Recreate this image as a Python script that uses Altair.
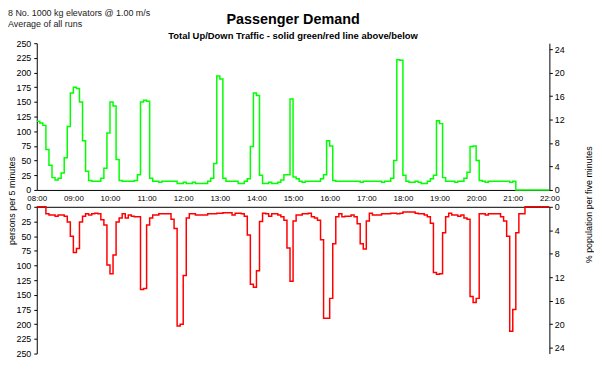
import altair as alt
import pandas as pd

# ---- data (persons per 5 minutes, 08:00 .. 22:00) ----
up_traffic = [
    117, 114, 110, 69, 42, 21, 17, 20, 29, 55, 108, 165,
    175, 173, 150, 84, 32, 16, 15, 15, 15, 20, 37, 97,
    150, 143, 52, 16, 15, 15, 15, 15, 16, 26, 150, 153,
    151, 20, 15, 15, 13, 15, 15, 15, 15, 15, 11, 11,
    13, 11, 11, 13, 11, 11, 11, 11, 15, 20, 45, 194,
    189, 20, 15, 15, 15, 15, 11, 11, 15, 19, 74, 165,
    161, 25, 11, 11, 13, 11, 11, 13, 17, 26, 26, 155,
    22, 19, 15, 13, 15, 15, 15, 15, 15, 19, 26, 84,
    75, 16, 15, 15, 15, 15, 15, 15, 15, 15, 13, 15,
    15, 15, 15, 15, 15, 13, 15, 15, 20, 50, 222, 221,
    25, 15, 13, 13, 15, 13, 11, 11, 15, 19, 25, 118,
    113, 21, 15, 15, 15, 13, 15, 15, 20, 30, 74, 75,
    50, 16, 15, 13, 15, 15, 15, 15, 15, 15, 15, 13,
    15, 0, 0, 0, 0, 0, 0, 0, 0, 0, 0, 0,
]
down_traffic = [
    0, 0, 0, 12, 14, 14, 16, 14, 14, 16, 26, 50,
    78, 71, 26, 16, 12, 14, 12, 11, 12, 22, 31, 99,
    114, 82, 26, 19, 12, 19, 14, 16, 17, 17, 141, 139,
    31, 19, 14, 14, 12, 12, 12, 12, 21, 37, 203, 200,
    117, 19, 12, 12, 14, 14, 14, 14, 12, 12, 12, 11,
    11, 10, 10, 10, 14, 11, 11, 12, 16, 48, 132, 137,
    109, 25, 11, 12, 16, 12, 12, 14, 17, 23, 70, 127,
    24, 14, 14, 12, 12, 11, 17, 19, 23, 56, 190, 190,
    156, 63, 17, 12, 17, 16, 16, 14, 17, 29, 63, 72,
    24, 11, 14, 14, 14, 12, 12, 12, 11, 11, 12, 11,
    9, 9, 9, 9, 11, 12, 12, 14, 17, 28, 112, 115,
    114, 44, 17, 11, 14, 14, 16, 14, 19, 21, 153, 163,
    156, 12, 12, 14, 12, 12, 12, 12, 17, 24, 50, 212,
    175, 44, 12, 12, 0, 0, 0, 0, 0, 0, 0, 0,
]
start_hour = 8
end_hour = 22
population = 1000
hour_ticks = list(range(8, 23))
person_ticks = list(range(0, 251, 25))
pct_ticks = list(range(0, 25, 4))

title_text = "Passenger Demand"
subtitle_text = "Total Up/Down Traffic - solid green/red line above/below"
note_lines = ["8 No. 1000 kg elevators @ 1.00 m/s", "Average of all runs"]
left_title = "persons per 5 minutes"
right_title = "% population per five minutes"

n = len(up_traffic)
times = [start_hour + i / 12 for i in range(n + 1)]
df = pd.DataFrame({
    "t": times,
    "up": up_traffic + [up_traffic[-1]],
    "down": down_traffic + [down_traffic[-1]],
})
df["up_pct"] = df["up"] * 100 / population
df["down_pct"] = df["down"] * 100 / population

W, H = 517, 148
FONT = "Liberation Sans"

xscale = alt.Scale(domain=[start_hour, end_hour], nice=False, zero=False)
x_top = alt.X("t:Q", scale=xscale, axis=alt.Axis(
    values=hour_ticks,
    labelExpr="(datum.value < 10 ? '0' : '') + datum.value + ':00'",
    title=None, ticks=False, labelPadding=4.5, labelFontSize=8,
    labelFlush=False, labelOverlap=False))
x_bot = alt.X("t:Q", scale=xscale, axis=alt.Axis(
    orient="top", labels=False, ticks=False, title=None))


def txt(text, x, y, **kw):
    return alt.Chart(pd.DataFrame({"label": [text]})).mark_text(font=FONT, **kw).encode(
        x=alt.value(x), y=alt.value(y), text="label:N")


green = alt.Chart(df).mark_line(color="#00ff00", strokeWidth=1.5, interpolate="step-after").encode(
    x=x_top,
    y=alt.Y("up:Q", scale=alt.Scale(domain=[0, 250], nice=False),
            axis=alt.Axis(values=person_ticks, title=None, tickSize=3, labelPadding=3)))
green_pct = alt.Chart(df).mark_line(opacity=0).encode(
    x=x_top,
    y=alt.Y("up_pct:Q", scale=alt.Scale(domain=[0, 25], nice=False),
            axis=alt.Axis(orient="right", values=pct_ticks, title=None, tickSize=3, labelPadding=2)))

texts = [
    txt(note_lines[0], -29, -34, align="left", baseline="top", fontSize=9, color="#222"),
    txt(note_lines[1], -29, -23, align="left", baseline="top", fontSize=9, color="#222"),
    txt(title_text, W / 2, -19.5, align="center", baseline="alphabetic", fontSize=14.5,
        fontWeight="bold", color="black"),
    txt(subtitle_text, W / 2, -4.5, align="center", baseline="alphabetic", fontSize=9.5,
        fontWeight="bold", color="black"),
    txt(left_title, -22, 159, align="center", baseline="alphabetic", angle=270, fontSize=9,
        color="black"),
    txt(right_title, 560, 163, align="center", baseline="alphabetic", angle=270, fontSize=9,
        color="black"),
]

top = alt.layer(green, green_pct, *texts).resolve_scale(y="independent").properties(width=W, height=H)

red = alt.Chart(df).mark_line(color="#ff0000", strokeWidth=1.5, interpolate="step-after").encode(
    x=x_bot,
    y=alt.Y("down:Q", scale=alt.Scale(domain=[0, 250], nice=False, reverse=True),
            axis=alt.Axis(values=person_ticks, title=None, tickSize=3, labelPadding=3)))
red_pct = alt.Chart(df).mark_line(opacity=0).encode(
    x=x_bot,
    y=alt.Y("down_pct:Q", scale=alt.Scale(domain=[0, 25], nice=False, reverse=True),
            axis=alt.Axis(orient="right", values=pct_ticks, title=None, tickSize=3, labelPadding=2)))

bottom = alt.layer(red, red_pct).resolve_scale(y="independent").properties(width=W, height=H)

chart = alt.vconcat(top, bottom, spacing=17, bounds="flush").properties(
    padding=0
).configure_view(stroke=None).configure_axis(
    grid=False, domainColor="black", tickColor="black", labelColor="black",
    labelFont=FONT, labelFontSize=9, domainWidth=1, tickWidth=1)

chart.save("out.html", embed_options={"renderer": "svg", "actions": False})
